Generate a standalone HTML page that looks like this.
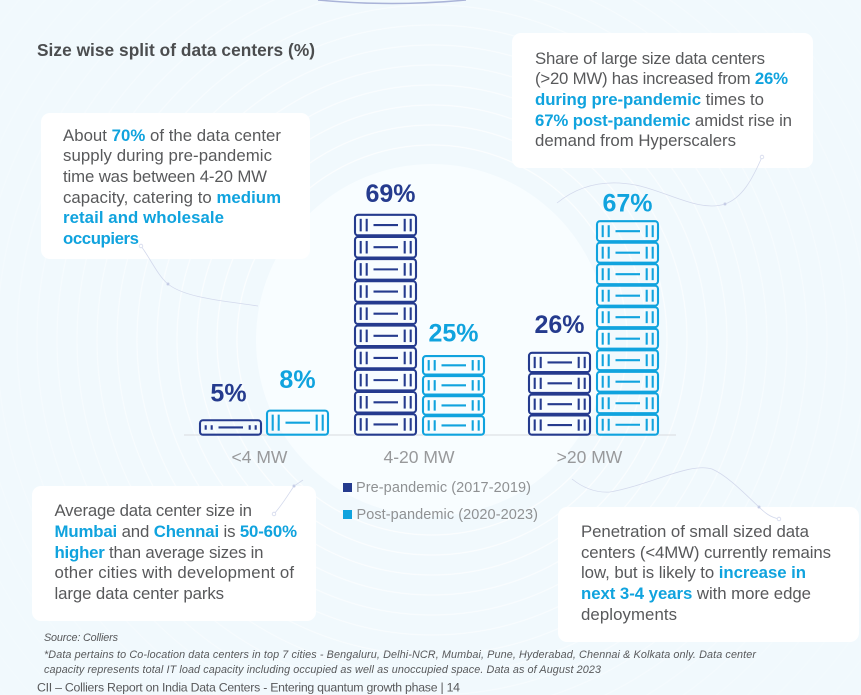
<!DOCTYPE html>
<html lang="en">
<head>
<meta charset="utf-8">
<title>Size wise split of data centers</title>
<style>
html,body{margin:0;padding:0;width:861px;height:695px;overflow:hidden;background:#f1f9fd}
svg{display:block;font-family:"Liberation Sans",sans-serif}
.body-text{font-size:16.8px;fill:#58595b}
.hl{font-weight:700;fill:#10a3de}
.note{font-size:10.8px;font-style:italic;fill:#58595b}
</style>
</head>
<body>
<svg id="page" width="861" height="695" viewBox="0 0 861 695" xmlns="http://www.w3.org/2000/svg">
  <defs>
    <radialGradient id="ringGrad" gradientUnits="userSpaceOnUse" cx="432" cy="340" r="20" spreadMethod="repeat">
      <stop offset="0" stop-color="#fff" stop-opacity="0"/>
      <stop offset="0.7" stop-color="#fff" stop-opacity="0"/>
      <stop offset="0.75" stop-color="#fff" stop-opacity="0.95"/>
      <stop offset="0.8" stop-color="#fff" stop-opacity="0"/>
      <stop offset="1" stop-color="#fff" stop-opacity="0"/>
    </radialGradient>
    <radialGradient id="fadeGrad" gradientUnits="userSpaceOnUse" cx="432" cy="340" r="620">
      <stop offset="0.3" stop-color="#f1f9fd" stop-opacity="0"/>
      <stop offset="0.75" stop-color="#f1f9fd" stop-opacity="0.8"/>
      <stop offset="1" stop-color="#f1f9fd" stop-opacity="0.95"/>
    </radialGradient>
  </defs>
  <rect width="861" height="695" fill="#f1f9fd"/>
  <rect width="861" height="695" fill="url(#ringGrad)"/>
  <rect width="861" height="695" fill="url(#fadeGrad)"/>
  <circle cx="432" cy="340" r="176" fill="#f8fdff"/>
  <path d="M318 0 Q392 7 466 0" fill="none" stroke="#a9b3d8" stroke-width="1.5"/>

  <text x="37" y="56" font-size="17.3" font-weight="700" fill="#4b4d4f" textLength="278">Size wise split of data centers (%)</text>

  <g>
    <rect x="41" y="113" width="269" height="146" rx="9" fill="#fff"/>
    <text class="body-text" x="63" y="141" textLength="218">About <tspan class="hl">70%</tspan> of the data center</text>
    <text class="body-text" x="63" y="161" textLength="209">supply during pre-pandemic</text>
    <text class="body-text" x="63" y="182" textLength="204">time was between 4-20 MW</text>
    <text class="body-text" x="63" y="203" textLength="218">capacity, catering to <tspan class="hl">medium</tspan></text>
    <text class="body-text hl" x="63" y="223" textLength="161">retail and wholesale</text>
    <text class="body-text hl" x="63" y="244" textLength="76">occupiers</text>
  </g>

  <g>
    <rect x="32" y="486" width="284" height="135" rx="9" fill="#fff"/>
    <text class="body-text" x="54.5" y="516" textLength="197.5">Average data center size in</text>
    <text class="body-text" x="54.5" y="537" textLength="242.5"><tspan class="hl">Mumbai</tspan> and <tspan class="hl">Chennai</tspan> is <tspan class="hl">50-60%</tspan></text>
    <text class="body-text" x="54.5" y="558" textLength="209"><tspan class="hl">higher</tspan> than average sizes in</text>
    <text class="body-text" x="54.5" y="578" textLength="239.5">other cities with development of</text>
    <text class="body-text" x="54.5" y="599" textLength="169.5">large data center parks</text>
  </g>

  <g>
    <rect x="512" y="33" width="301" height="135" rx="9" fill="#fff"/>
    <text class="body-text" x="535" y="64" textLength="230">Share of large size data centers</text>
    <text class="body-text" x="535" y="84" textLength="253">(&gt;20 MW) has increased from <tspan class="hl">26%</tspan></text>
    <text class="body-text" x="535" y="105" textLength="229"><tspan class="hl">during pre-pandemic</tspan> times to</text>
    <text class="body-text" x="535" y="126" textLength="257"><tspan class="hl">67% post-pandemic</tspan> amidst rise in</text>
    <text class="body-text" x="535" y="146" textLength="201">demand from Hyperscalers</text>
  </g>

  <g>
    <rect x="558" y="507" width="301" height="135" rx="9" fill="#fff"/>
    <text class="body-text" x="581" y="537" textLength="228">Penetration of small sized data</text>
    <text class="body-text" x="581" y="558" textLength="250">centers (&lt;4MW) currently remains</text>
    <text class="body-text" x="581" y="578" textLength="225">low, but is likely to <tspan class="hl">increase in</tspan></text>
    <text class="body-text" x="581" y="599" textLength="230"><tspan class="hl">next 3-4 years</tspan> with more edge</text>
    <text class="body-text" x="581" y="620" textLength="96">deployments</text>
  </g>

  <g fill="none" stroke="#d3d9ec" stroke-width="0.8">
    <path d="M141 246 C150 258 158 276 168 284 C185 298 225 301 258 306"/>
    <path d="M762 157 C752 180 742 198 725 204 C700 212 672 194 640 186 C605 178 578 186 557 203"/>
    <path d="M779 519 C770 517 765 513 759 507 C745 494 728 476 712 469 C690 462 650 485 610 492 C595 493 582 487 572 479"/>
    <path d="M274 514 C282 505 288 495 294 486 L303 480"/>
    <circle cx="141" cy="246" r="1.8" fill="#fff"/>
    <circle cx="168" cy="284" r="1.2" fill="#b4bedf"/>
    <circle cx="762" cy="157" r="1.8" fill="#fff"/>
    <circle cx="725" cy="204" r="1.2" fill="#b4bedf"/>
    <circle cx="779" cy="519" r="1.8" fill="#fff"/>
    <circle cx="759" cy="507" r="1.2" fill="#b4bedf"/>
    <circle cx="274" cy="514" r="1.8" fill="#fff"/>
    <circle cx="294" cy="486" r="1.2" fill="#b4bedf"/>
  </g>

  <line x1="184" y1="435" x2="676" y2="435" stroke="#d9dcdf" stroke-width="1"/>
  <g id="chart"></g>

  <g>
    <g>
      <rect x="343" y="483" width="9" height="9" fill="#253b8e"/>
      <text x="356" y="492" font-size="14.5" fill="#8f9193" textLength="175">Pre-pandemic (2017-2019)</text>
    </g>
    <g>
      <rect x="343" y="510" width="9" height="9" fill="#10a3de"/>
      <text x="356.5" y="519" font-size="14.5" fill="#8f9193" textLength="181.5">Post-pandemic (2020-2023)</text>
    </g>
  </g>

  <text class="note" x="44" y="641" textLength="74">Source: Colliers</text>
  <text class="note" x="44" y="658" textLength="712">*Data pertains to Co-location data centers in  top 7 cities - Bengaluru, Delhi-NCR, Mumbai, Pune, Hyderabad, Chennai &amp; Kolkata only. Data center</text>
  <text class="note" x="44" y="673" textLength="557">capacity represents total  IT load capacity including occupied as well as unoccupied space. Data as of August 2023</text>
  <text x="37" y="691.5" font-size="12.3" fill="#58595b" textLength="423">CII – Colliers Report on India Data Centers - Entering quantum growth phase | 14</text>
</svg>
<script>
const categories = ['<4 MW', '4-20 MW', '>20 MW'];
const prePandemic = [5, 69, 26];
const postPandemic = [8, 25, 67];

const NS = 'http://www.w3.org/2000/svg';
const baseline = 435.5;
const colors = { pre: '#253b8e', post: '#10a3de' };
const percentPerUnit = 6.8;
const pixelsPerPercent = 3.21;
const barWidth = 63;

function yScale(v) { return baseline - v * pixelsPerPercent; }
function xGroup(i) { return 199 + i * 164.5 + (i === 1 ? -9.5 : 0); }
function labelCenter(i) { return xGroup(i) + (i === 0 ? 60.5 : i === 1 ? 65 : 61.5); }
function unitCount(v) { return Math.max(1, Math.round(v / percentPerUnit)); }

function addShape(parent, tag, props) {
  const el = document.createElementNS(NS, tag);
  for (const k in props) el.setAttribute(k, props[k]);
  parent.appendChild(el);
  return el;
}

function drawUnit(g, x, y, h, color) {
  addShape(g, 'rect', { x: x + 1, y: y + 0.8, width: barWidth - 2, height: h - 1.6, rx: 3, fill: 'none', stroke: color, 'stroke-width': 2.1 });
  const tickInset = h < 20 ? h * 0.36 : 4.8;
  [6.7, 12.7, 50.7, 56.7].forEach(function (dx) {
    addShape(g, 'line', { x1: x + dx, x2: x + dx, y1: y + tickInset, y2: y + h - tickInset, stroke: color, 'stroke-width': 2.1 });
  });
  addShape(g, 'line', { x1: x + 19.5, x2: x + 44, y1: y + h / 2, y2: y + h / 2, stroke: color, 'stroke-width': 2.1 });
}

function labelGap(v) {
  if (v >= 60) return v === 69 ? 12 : 9;
  if (v >= 20) return v === 26 ? 19 : 14;
  return v === 8 ? 22 : 18;
}

function labelNudge(v) {
  if (v === 69) return 5;
  if (v === 5) return -2;
  return 0;
}

function drawStack(chart, v, x, color, name) {
  const g = addShape(chart, 'g', {});
  
  
  const n = unitCount(v);
  const top = yScale(v);
  const h = (baseline - top) / n;
  for (let u = 0; u < n; u++) drawUnit(g, x, top + u * h, h, color);
  const t = addShape(g, 'text', { x: x + barWidth / 2 + labelNudge(v), y: top - labelGap(v), 'text-anchor': 'middle', 'font-size': 25, 'font-weight': 700, fill: color });
  
  
  t.textContent = v + '%';
}

const chart = document.getElementById('chart');
categories.forEach(function (cat, i) {
  const x0 = xGroup(i);
  drawStack(chart, prePandemic[i], x0, colors.pre, 'bar-pre-pandemic-' + i);
  drawStack(chart, postPandemic[i], x0 + (i === 0 ? 67 : 68), colors.post, 'bar-post-pandemic-' + i);
  const label = addShape(chart, 'text', { x: labelCenter(i), y: 463, 'text-anchor': 'middle', 'font-size': 17.5, fill: '#98999b' });
  
  
  label.textContent = cat;
});
</script>
</body>
</html>
